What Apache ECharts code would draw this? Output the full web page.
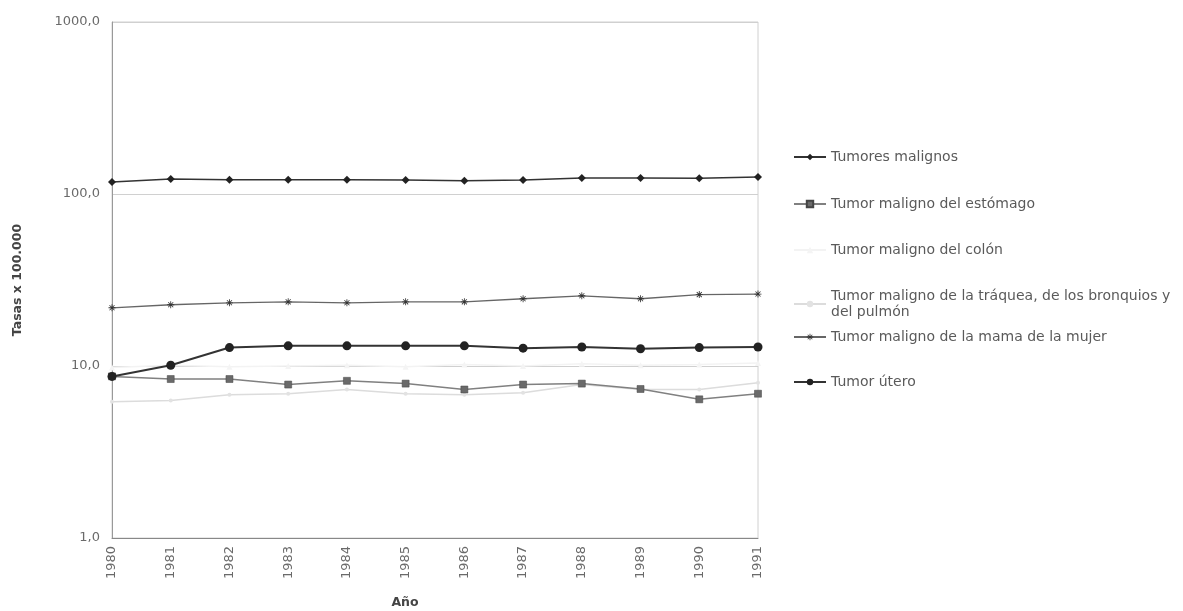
<!DOCTYPE html>
<html>
<head>
<meta charset="utf-8">
<script src="https://cdn.jsdelivr.net/npm/echarts@6/dist/echarts.min.js"></script>
<style>
html,body{margin:0;padding:0;background:#fff;}
#c{width:1183px;height:611px;}
</style>
</head>
<body>
<div id="c"></div>
<script>
const years = ['1980','1981','1982','1983','1984','1985','1986','1987','1988','1989','1990','1991'];
const tumoresMalignos = [117.4,122.2,121.1,121.0,121.0,120.6,119.5,120.6,123.9,123.9,123.5,125.5];
const estomago = [8.7,8.4,8.4,7.8,8.2,7.9,7.3,7.8,7.9,7.35,6.4,6.9];
const colon = [9.8,10.1,9.9,10.0,10.1,9.9,10.2,10.0,10.3,10.1,10.2,10.4];
const traquea = [6.2,6.3,6.8,6.9,7.3,6.9,6.8,7.0,7.8,7.3,7.3,8.0];
const mama = [21.8,22.7,23.3,23.6,23.3,23.6,23.6,24.6,25.6,24.6,26.0,26.2];
const utero = [8.7,10.1,12.8,13.1,13.1,13.1,13.1,12.7,12.9,12.6,12.8,12.9];

const names = ['Tumores malignos','Tumor maligno del estómago','Tumor maligno del colón',
  'Tumor maligno de la tráquea, de los bronquios y\ndel pulmón','Tumor maligno de la mama de la mujer','Tumor útero'];

const FONT = '"DejaVu Sans", Verdana, sans-serif';
const asterisk = 'path://M4.4,0H5.6V10H4.4Z M0,4.4H10V5.6H0Z M1,1.8L1.8,1L9,8.2L8.2,9Z M8.2,1L9,1.8L1.8,9L1,8.2Z';

const chart = echarts.init(document.getElementById('c'), null, {renderer:'canvas'});

const legendCenters = [157, 204, 250, 304, 337, 382];
const legends = names.map((n,i)=>({
  data:[n],
  left: 793,
  top: legendCenters[i] - (i===3 ? 16 : 8),
  orient:'vertical',
  padding:0,
  itemWidth: 32,
  itemHeight: 8,
  itemGap: 4,
  selectedMode:false,
  textStyle:{fontFamily:FONT,fontSize:14,color:'#5a5a5a',lineHeight:16}
}));

chart.setOption({
  backgroundColor:'#fff',
  animation:false,
  legend: legends,
  grid:{left:112, right:425, top:22, bottom:73, outerBoundsMode:'none', containLabel:false,
    show:true, borderColor:'#d0d0d0', borderWidth:1},
  xAxis:{
    type:'category',
    data: years,
    boundaryGap:false,
    name:'Año',
    nameLocation:'middle',
    nameGap:58,
    nameTextStyle:{fontFamily:FONT,fontSize:12.5,fontWeight:'bold',color:'#444',padding:[0,60,0,0]},
    axisLine:{lineStyle:{color:'#888',width:1}},
    axisTick:{show:false},
    axisLabel:{rotate:90,fontFamily:FONT,fontSize:13,color:'#6a6a6a',margin:8},
    splitLine:{show:false}
  },
  yAxis:{
    type:'log',
    logBase:10,
    min:1,
    max:1000,
    name:'Tasas x 100.000',
    nameLocation:'middle',
    nameGap:88,
    nameRotate:90,
    nameTextStyle:{fontFamily:FONT,fontSize:12.5,fontWeight:'bold',color:'#444'},
    axisLine:{show:true,lineStyle:{color:'#999'}},
    axisTick:{show:false},
    axisLabel:{fontFamily:FONT,fontSize:13,color:'#6a6a6a',margin:12,
      formatter:v=>v.toFixed(1).replace('.',',')},
    splitLine:{show:true,lineStyle:{color:'#d0d0d0',width:1}},
    minorTick:{show:false}
  },
  series:[
    {name:names[0],type:'line',data:tumoresMalignos,symbol:'diamond',symbolSize:8,
      lineStyle:{color:'#333',width:1.5},itemStyle:{color:'#222'},z:6},
    {name:names[1],type:'line',data:estomago,symbol:'rect',symbolSize:7,
      lineStyle:{color:'#808080',width:1.5},itemStyle:{color:'#6a6a6a',borderColor:'#444',borderWidth:0.5},z:5},
    {name:names[2],type:'line',data:colon,symbol:'triangle',symbolSize:6,
      lineStyle:{color:'#f3f3f3',width:1.5},itemStyle:{color:'#f4f4f4'},z:2},
    {name:names[3],type:'line',data:traquea,symbol:'circle',symbolSize:4,
      lineStyle:{color:'#dcdcdc',width:1.5},itemStyle:{color:'#e2e2e2'},z:3},
    {name:names[4],type:'line',data:mama,symbol:asterisk,symbolSize:7,
      lineStyle:{color:'#666',width:1.3},itemStyle:{color:'#333'},z:4},
    {name:names[5],type:'line',data:utero,symbol:'circle',symbolSize:9,
      lineStyle:{color:'#333',width:2},itemStyle:{color:'#222'},z:7}
  ]
});
</script>
</body>
</html>
